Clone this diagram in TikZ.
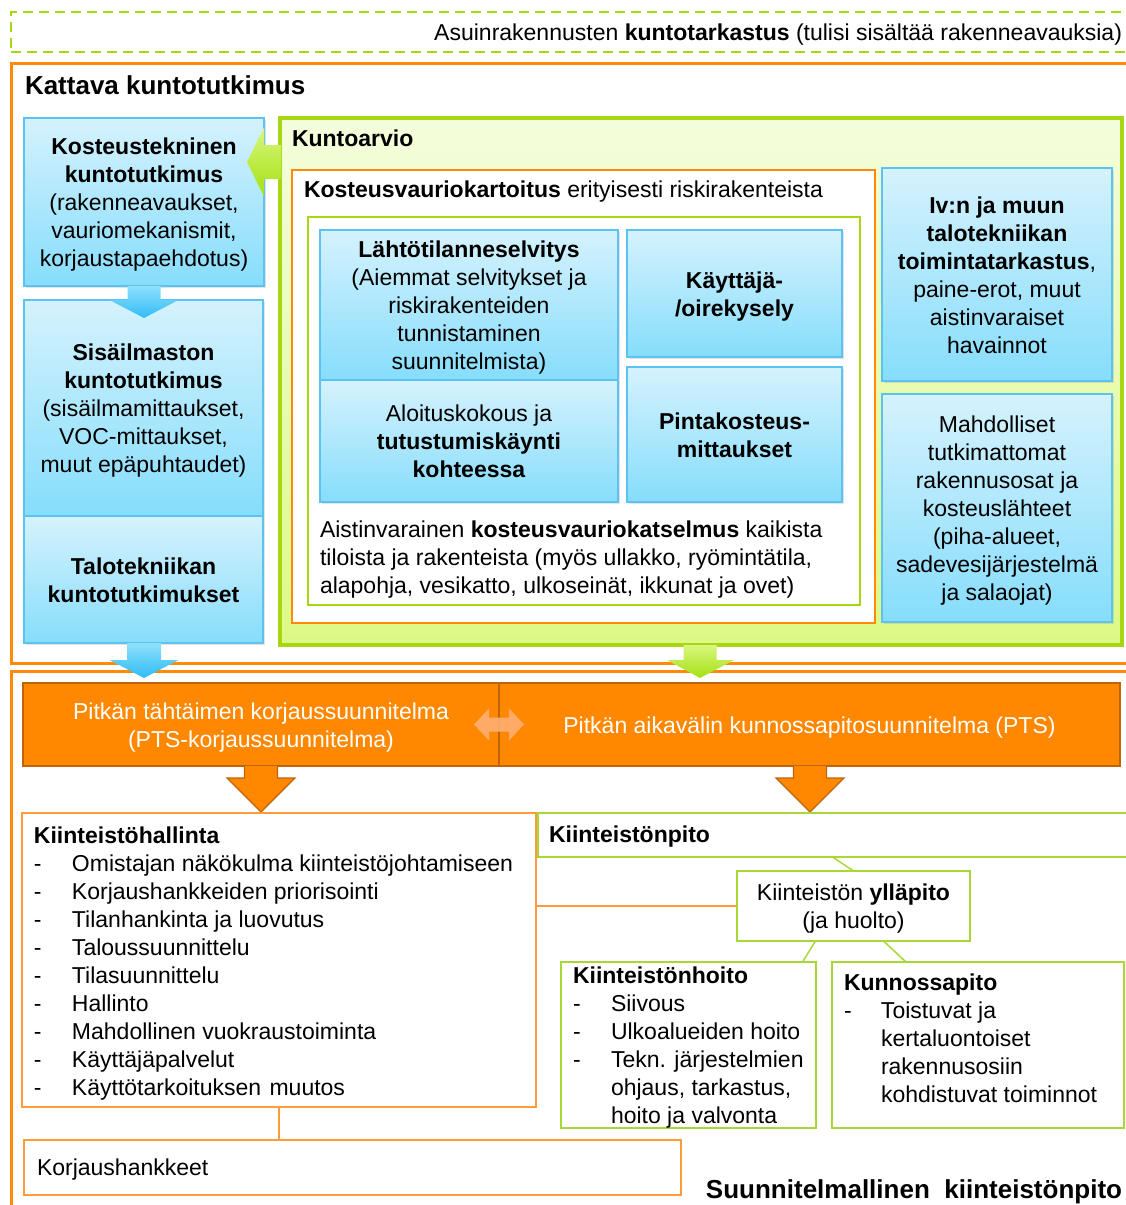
\documentclass[tikz,border=0pt]{standalone}
\usepackage{fontspec}
\setmainfont{Liberation Sans}
\usetikzlibrary{shadows,calc}
\definecolor{bluetop}{HTML}{D5F2FD}
\definecolor{bluebot}{HTML}{86DDFC}
\definecolor{bluedraw}{HTML}{5BC3F2}
\definecolor{grn}{HTML}{A6D712}
\definecolor{grntop}{HTML}{F4FDDC}
\definecolor{grnbot}{HTML}{DCF985}
\definecolor{org}{HTML}{FF8A0A}
\definecolor{orgfill}{HTML}{FF8800}
\definecolor{orgdark}{HTML}{C0640C}
\definecolor{thgrn}{HTML}{A8D838}
\definecolor{thorg}{HTML}{FF9C3A}
\definecolor{barrowtop}{HTML}{8FE0FC}
\definecolor{barrowbot}{HTML}{2FBCF6}
\definecolor{garrowtop}{HTML}{D8F77E}
\definecolor{garrowbot}{HTML}{A4E012}
\definecolor{dblarrow}{HTML}{FFB27A}
\newcommand\bodyf{\fontsize{23}{28}\selectfont}
\newcommand\bigf{\fontsize{26}{31}\selectfont}
\newcommand\ls{\rule[-5.4pt]{0pt}{28pt}}
\begin{document}
\begin{tikzpicture}[x=1pt,y=-1pt,
  every node/.style={inner sep=0pt, outer sep=0pt},
  bluebox/.style={draw=bluedraw, line width=1.4pt, top color=bluetop, bottom color=bluebot,
    align=center, font=\bodyf,
    drop shadow={shadow xshift=2pt,shadow yshift=-2pt,opacity=0.22}},
  plainbox/.style={draw=#1, line width=1.5pt, fill=white},
  txtl/.style={anchor=base west, font=\bodyf},
  arrowblue/.style={top color=barrowtop, bottom color=barrowbot},
  arrowgreen/.style={top color=garrowtop, bottom color=garrowbot},
  arroworange/.style={fill=orgfill, draw=orgdark, line width=1.2pt, line join=miter}]
\useasboundingbox (0,0) rectangle (1126,1205);
\fill[white] (0,0) rectangle (1126,1205);

% top dashed box
\node[draw=grn, line width=2.4pt, dash pattern=on 10pt off 6pt, minimum width=1119pt, minimum height=40pt] (tk) at (570.5,32) {};
\node[anchor=base east, font=\bodyf] (tktext) at (1122,40) {Asuinrakennusten \textbf{kuntotarkastus} (tulisi sisältää rakenneavauksia)};

% outer orange boxes
\node[draw=org, line width=3pt, minimum width=1119pt, minimum height=600pt] (kattava) at (570.5,363) {};
\node[anchor=base west, font=\bigf\bfseries] (kattavaT) at (25,94) {Kattava kuntotutkimus};
\node[draw=org, line width=3pt, minimum width=1119pt, minimum height=544pt] (lower) at (570.5,943) {};

% Kuntoarvio
\node[draw=grn, line width=3.2pt, top color=grntop, bottom color=grnbot, minimum width=842pt, minimum height=527pt,
  drop shadow={shadow xshift=2pt,shadow yshift=-2pt,opacity=0.2}] (ka) at (701,381.5) {};
\node[anchor=base west, font=\bodyf\bfseries] (kaT) at (292,146) {Kuntoarvio};

% Kosteusvauriokartoitus
\node[draw=org, line width=2.8pt, fill=white, minimum width=583pt, minimum height=453pt] (kv) at (583.5,396.5) {};
\node[txtl] (kvT) at (304,197) {\textbf{Kosteusvauriokartoitus} erityisesti riskirakenteista};
\node[draw=grn, line width=2.8pt, fill=white, minimum width=552pt, minimum height=388pt] (kvin) at (584,411) {};

\node[bluebox, minimum width=298pt, minimum height=150pt] (lt) at (469,305)
  {\ls\textbf{Lähtötilanneselvitys}\\(Aiemmat selvitykset ja\\riskirakenteiden\\tunnistaminen\\suunnitelmista)\ls};
\node[bluebox, minimum width=298pt, minimum height=122pt] (al) at (469,441)
  {\ls Aloituskokous ja\\\textbf{tutustumiskäynti}\\\textbf{kohteessa}\ls};
\node[bluebox, minimum width=215pt, minimum height=127pt] (ky) at (734.5,293.5)
  {\ls\textbf{Käyttäjä-}\\\textbf{/oirekysely}\ls};
\node[bluebox, minimum width=215pt, minimum height=135pt] (pk) at (734.5,434.5)
  {\ls\textbf{Pintakosteus-}\\\textbf{mittaukset}\ls};
\node[txtl] (ai1) at (320,537) {Aistinvarainen \textbf{kosteusvauriokatselmus} kaikista};
\node[txtl] (ai2) at (320,565) {tiloista ja rakenteista (myös ullakko, ryömintätila,};
\node[txtl] (ai3) at (320,593) {alapohja, vesikatto, ulkoseinät, ikkunat ja ovet)};

\node[bluebox, minimum width=230pt, minimum height=213pt] (iv) at (997,274.5)
  {\ls\textbf{Iv:n ja muun}\\\textbf{talotekniikan}\\\textbf{toimintatarkastus},\\paine-erot, muut\\aistinvaraiset\\havainnot\ls};
\node[bluebox, minimum width=230pt, minimum height=228pt] (md) at (997,508)
  {\ls Mahdolliset\\tutkimattomat\\rakennusosat ja\\kosteuslähteet\\(piha-alueet,\\sadevesijärjestelmä\\ja salaojat)\ls};

% left column
\node[bluebox, minimum width=240pt, minimum height=168pt] (b1) at (144,202)
  {\ls\textbf{Kosteustekninen}\\\textbf{kuntotutkimus}\\(rakenneavaukset,\\vauriomekanismit,\\korjaustapaehdotus)\ls};
\node[bluebox, minimum width=239pt, minimum height=216pt] (b2) at (143.5,408)
  {\ls\textbf{Sisäilmaston}\\\textbf{kuntotutkimus}\\(sisäilmamittaukset,\\VOC-mittaukset,\\muut epäpuhtaudet)\ls};
\node[bluebox, minimum width=239pt, minimum height=127pt] (b3) at (143.5,579.5)
  {\ls\textbf{Talotekniikan}\\\textbf{kuntotutkimukset}\ls};

% arrow b1 -> b2
\path[arrowblue] ($(b1.south)+(-16.5,0)$) -- ($(b2.north)+(-16,0)$) -- ($(b2.north)+(-34,0)$) -- ($(b2.north)+(0.5,18)$)
  -- ($(b2.north)+(35,0)$) -- ($(b2.north)+(17,0)$) -- ($(b1.south)+(16.5,0)$) -- cycle;
% green arrow ka -> b1
\coordinate (gl) at ($(ka.north west)+(0,44)$);
\path[arrowgreen] ($(gl)+(1,-17)$) -- ($(gl -| b1.east)+(0,-17)$) -- ($(gl -| b1.east)+(0,-34.5)$) -- ($(gl -| b1.east)+(-17,0)$)
  -- ($(gl -| b1.east)+(0,34.5)$) -- ($(gl -| b1.east)+(0,17)$) -- ($(gl)+(1,17)$) -- cycle;

% orange bar
\node[fill=orgfill, draw=orgdark, line width=1.5pt, minimum width=476pt, minimum height=83pt, text=white, align=center, font=\bodyf] (barl) at (261,724.5)
  {\ls Pitkän tähtäimen korjaussuunnitelma\\(PTS-korjaussuunnitelma)\ls};
\node[fill=orgfill, draw=orgdark, line width=1.5pt, minimum width=621pt, minimum height=83pt, text=white, align=center, font=\bodyf] (barr) at (809.5,724.5)
  {\ls Pitkän aikavälin kunnossapitosuunnitelma (PTS)};
% double arrow
\path[fill=dblarrow, opacity=0.85] ($(barl.east)+(-25,0)$) -- ($(barl.east)+(-10,-16)$) -- ($(barl.east)+(-10,-7)$) -- ($(barl.east)+(10,-7)$)
  -- ($(barl.east)+(10,-16)$) -- ($(barl.east)+(25,0)$) -- ($(barl.east)+(10,16)$) -- ($(barl.east)+(10,7)$)
  -- ($(barl.east)+(-10,7)$) -- ($(barl.east)+(-10,16)$) -- cycle;

% arrows into bar
\path[arrowblue] ($(b3.south)+(-16.5,0)$) -- ($(b3.south)+(-16.5,17)$) -- ($(b3.south)+(-34,17)$) -- ($(b3.south)+(0.5,35)$)
  -- ($(b3.south)+(35,17)$) -- ($(b3.south)+(17.5,17)$) -- ($(b3.south)+(17.5,0)$) -- cycle;
\path[arrowgreen] ($(ka.south)+(-17.5,0)$) -- ($(ka.south)+(-17.5,15)$) -- ($(ka.south)+(-34,15)$) -- ($(ka.south)+(-1,33)$)
  -- ($(ka.south)+(33,15)$) -- ($(ka.south)+(15.5,15)$) -- ($(ka.south)+(15.5,0)$) -- cycle;

% orange arrows down
\path[arroworange] ($(barl.south)+(-16.5,0)$) -- ($(barl.south)+(-16.5,12)$) -- ($(barl.south)+(-34,12)$) -- ($(barl.south)+(0,46)$)
  -- ($(barl.south)+(34,12)$) -- ($(barl.south)+(16.5,12)$) -- ($(barl.south)+(16.5,0)$);
\path[arroworange] ($(barr.south)+(-16,0)$) -- ($(barr.south)+(-16,12)$) -- ($(barr.south)+(-33.5,12)$) -- ($(barr.south)+(0.5,46)$)
  -- ($(barr.south)+(34.5,12)$) -- ($(barr.south)+(17,12)$) -- ($(barr.south)+(17,0)$);

% Kiinteistöhallinta
\node[plainbox=thorg, minimum width=514pt, minimum height=294pt] (kh) at (279,960) {};
\node[txtl, font=\bodyf\bfseries] (khT) at (34,843) {Kiinteistöhallinta};
\foreach \t [count=\i] in {Omistajan näkökulma kiinteistöjohtamiseen, Korjaushankkeiden priorisointi,
  Tilanhankinta ja luovutus, Taloussuunnittelu, Tilasuunnittelu, Hallinto,
  Mahdollinen vuokraustoiminta, Käyttäjäpalvelut, Käyttötarkoituksen\hspace{2pt} muutos}
  \node[txtl] (khi\i) at (34,{843+28*\i}) {\makebox[38pt][l]{-}\t};

% Kiinteistönpito header
\node[draw=thgrn, line width=1.5pt, minimum width=592pt, minimum height=44pt] (hdr) at (834,835) {};
\node[txtl, font=\bodyf\bfseries] (hdrT) at (549,842) {Kiinteistönpito};

% Korjaushankkeet
\node[plainbox=thorg, minimum width=657pt, minimum height=55pt] (kj) at (352.5,1167.5) {};
\node[txtl] (kjT) at (37,1175) {Korjaushankkeet};

% connectors
\draw[thgrn, line width=1.5pt] ($(hdr.south west)+(13,0)$) -- ($(hdr.south west)+(13,0)$ |- kj.north);
\draw[thorg, line width=1.5pt] (kh.south) -- (kh.south |- kj.north);

% Ylläpito
\node[plainbox=thgrn, minimum width=233pt, minimum height=70pt, align=center, font=\bodyf] (yp) at (853.5,906)
  {\ls Kiinteistön \textbf{ylläpito}\\(ja huolto)\ls};
\draw[thorg, line width=1.5pt] (yp.west) -- (yp.west -| kh.east);
\draw[thgrn, line width=1.5pt] (yp.north) -- ($(yp.north |- hdr.south)+(-21,0)$);

% Kiinteistönhoito
\node[plainbox=thgrn, minimum width=255pt, minimum height=166pt] (ho) at (688.5,1045) {};
\node[txtl, font=\bodyf\bfseries] (hoT) at (573,983) {Kiinteistönhoito};
\node[txtl] (ho1) at (573,1011) {\makebox[38pt][l]{-}Siivous};
\node[txtl] (ho2) at (573,1039) {\makebox[38pt][l]{-}Ulkoalueiden hoito};
\node[txtl] (ho3) at (573,1067) {\makebox[38pt][l]{-}Tekn. järjestelmien};
\node[txtl] (ho4) at (611,1095) {ohjaus, tarkastus,};
\node[txtl] (ho5) at (611,1123) {hoito ja valvonta};

% Kunnossapito
\node[plainbox=thgrn, minimum width=292pt, minimum height=166pt] (kp) at (978,1045) {};
\node[txtl, font=\bodyf\bfseries] (kpT) at (844,990) {Kunnossapito};
\node[txtl] (kp1) at (844,1018) {\makebox[37pt][l]{-}Toistuvat ja};
\node[txtl] (kp2) at (881,1046) {kertaluontoiset};
\node[txtl] (kp3) at (881,1074) {rakennusosiin};
\node[txtl] (kp4) at (881,1102) {kohdistuvat toiminnot};

\draw[thgrn, line width=1.5pt] ($(yp.south)+(-38,0)$) -- ($(ho.north)+(114,0)$);
\draw[thgrn, line width=1.5pt] ($(yp.south)+(30,0)$) -- ($(kp.north)+(-72,0)$);

\node[anchor=base east, font=\bigf\bfseries] (suun) at (1122,1198) {Suunnitelmallinen\ \ kiinteistönpito};
\end{tikzpicture}
\end{document}
